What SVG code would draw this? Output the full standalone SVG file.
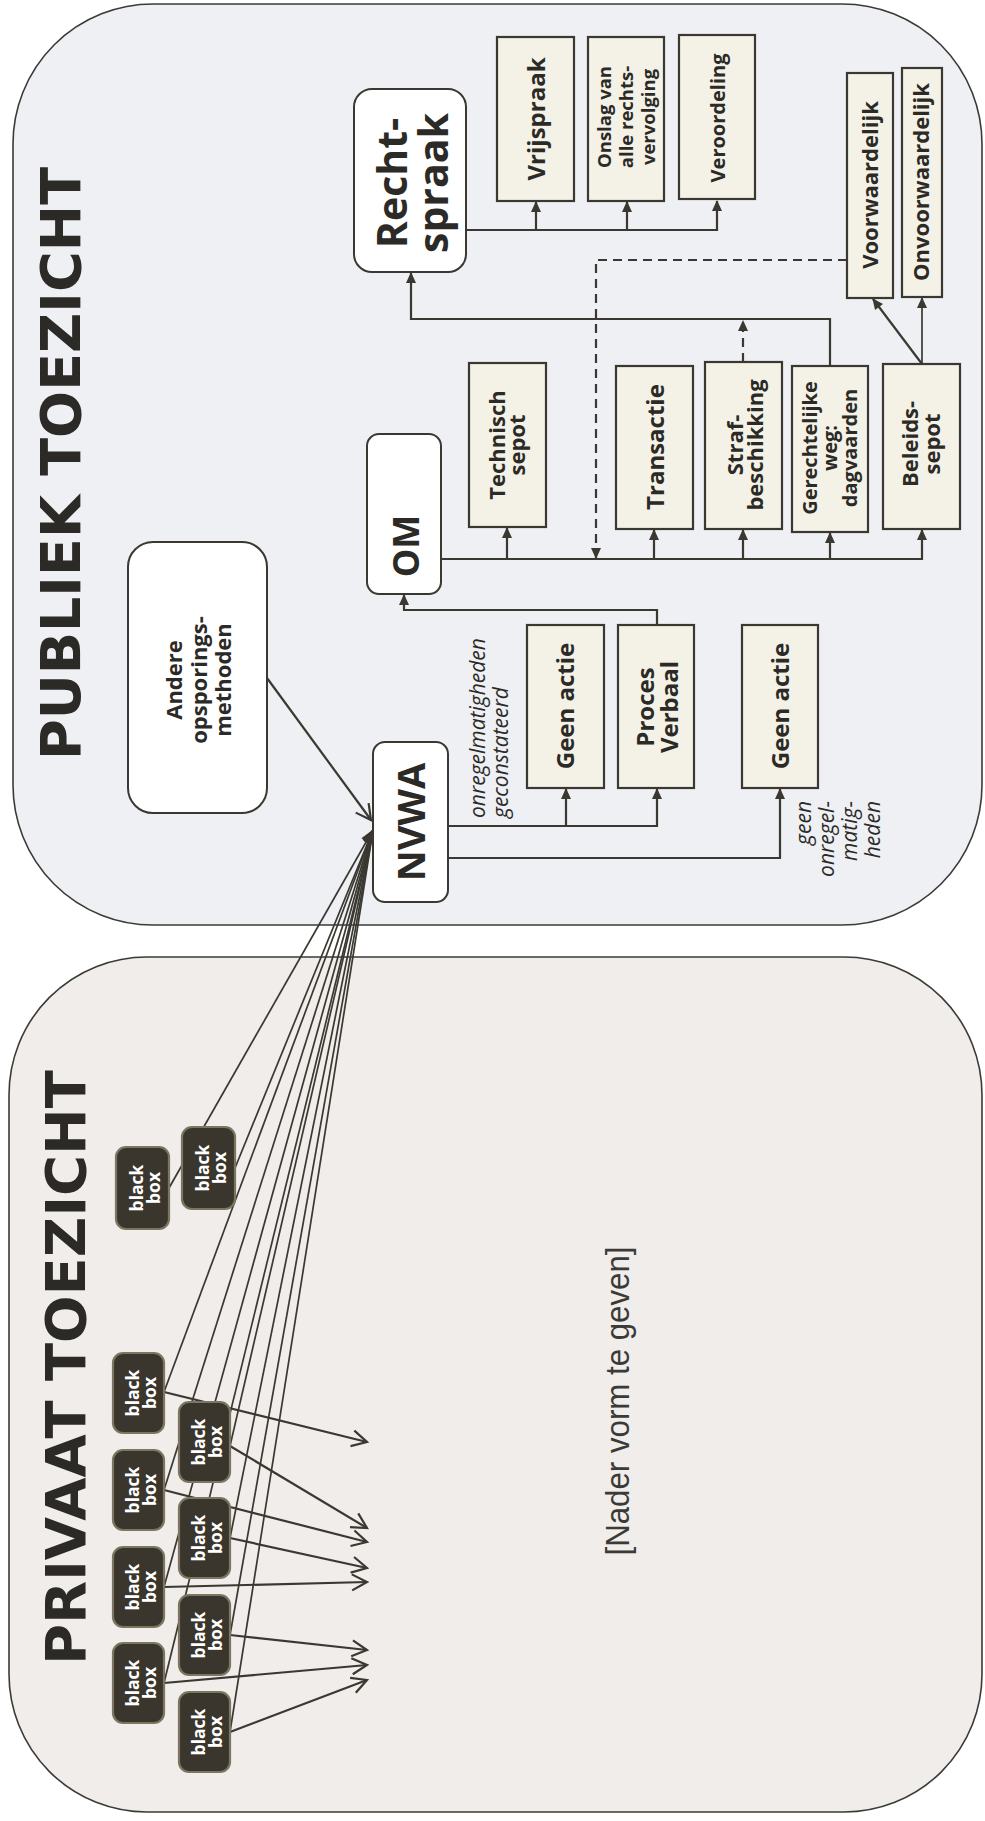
<svg xmlns="http://www.w3.org/2000/svg" width="985" height="1821" viewBox="0 0 985 1821">
<defs>
<style>
.panel{stroke:#3a3a36;stroke-width:1.6}
.cream{fill:#f4f2e6;stroke:#3a3830;stroke-width:2.2}
.white{fill:#ffffff;stroke:#3a3830;stroke-width:2}
.bbox{fill:#3a362d;stroke:#7a765f;stroke-width:2.2}
.con{fill:none;stroke:#3a3830;stroke-width:2.2}
.thin{fill:none;stroke:#3a3830;stroke-width:1.7}
.dash{stroke-dasharray:9 6}
.lbl{font-family:"Open Sans","DejaVu Sans",sans-serif;font-weight:700;fill:#2b2a26;text-anchor:middle}
.it{font-family:"Open Sans","DejaVu Sans",sans-serif;font-style:italic;font-weight:400;fill:#2b2a26;font-size:21px}
.bb{font-family:"Open Sans","DejaVu Sans",sans-serif;font-weight:700;fill:#ffffff;font-size:17.5px;text-anchor:middle}
.title{font-family:"DejaVu Sans",sans-serif;font-weight:700;font-size:55px;fill:#2b2a26;text-anchor:middle}
</style>
<marker id="ah" markerUnits="userSpaceOnUse" markerWidth="11" markerHeight="10" refX="10" refY="5" orient="auto" overflow="visible">
<path d="M0,0 L11,5 L0,10 z" fill="#3a3830"/>
</marker>
<marker id="ahb" markerUnits="userSpaceOnUse" markerWidth="14" markerHeight="12" refX="13" refY="6" orient="auto" overflow="visible">
<path d="M0,0 L14,6 L0,12 z" fill="#3a3830"/>
</marker>
<marker id="open" markerUnits="userSpaceOnUse" markerWidth="16" markerHeight="16" refX="15" refY="8" orient="auto" overflow="visible">
<path d="M0,0 L15,8 L0,16" fill="none" stroke="#3a3830" stroke-width="2.2"/>
</marker>
</defs>

<g id="panels">
<rect id="publiek-panel" class="panel" x="13" y="4" width="969" height="921" rx="140" ry="140" fill="#eef0f4"/>
<rect id="privaat-panel" class="panel" x="9" y="957" width="973" height="855" rx="138" ry="138" fill="#f0edeb"/>
<text class="title" transform="translate(80,463.5) rotate(-90)" textLength="593" lengthAdjust="spacingAndGlyphs">PUBLIEK TOEZICHT</text>
<text class="title" transform="translate(85,1367.5) rotate(-90)" textLength="595" lengthAdjust="spacingAndGlyphs">PRIVAAT TOEZICHT</text>
<text transform="translate(629,1401) rotate(-90)" font-family="Liberation Sans, Arial, sans-serif" font-size="34" fill="#3a3a36" text-anchor="middle" textLength="309" lengthAdjust="spacingAndGlyphs">[Nader vorm te geven]</text>
</g>

<g id="connectors">
<path class="con" d="M466 230 H717 V201" marker-end="url(#ah)"/>
<path class="con" d="M536 230 V202" marker-end="url(#ah)"/>
<path class="con" d="M627 230 V202" marker-end="url(#ah)"/>
<path class="con" d="M830 366 V319 H411 V273" marker-end="url(#ah)"/>
<path class="con dash" d="M743 362 V321" marker-end="url(#ah)"/>
<path class="con dash" d="M847 260 H596 V558" marker-end="url(#ah)"/>
<path class="con" d="M922 364 L873 299" marker-end="url(#ah)"/>
<path class="thin" d="M922 364 V298" marker-end="url(#ah)"/>
<path class="con" d="M441 559 H922 V530" marker-end="url(#ah)"/>
<path class="con" d="M507 559 V528" marker-end="url(#ah)"/>
<path class="con" d="M654 559 V530" marker-end="url(#ah)"/>
<path class="con" d="M743 559 V530" marker-end="url(#ah)"/>
<path class="con" d="M830 559 V533" marker-end="url(#ah)"/>
<path class="con" d="M657 625 V610 H404 V595" marker-end="url(#ah)"/>
<path class="con" d="M448 826 H657 V789" marker-end="url(#ah)"/>
<path class="con" d="M566 826 V789" marker-end="url(#ah)"/>
<path class="con" d="M448 858 H780 V789" marker-end="url(#ah)"/>
<path class="con" d="M267 678 L371 820" marker-end="url(#open)"/>
<path class="thin" d="M169 1188 L373 830" marker-end="url(#ahb)"/>
<path class="thin" d="M235 1168 L373 830" marker-end="url(#ahb)"/>
<path class="thin" d="M164 1392 L373 830" marker-end="url(#ahb)"/>
<path class="thin" d="M230 1446 L373 830" marker-end="url(#ahb)"/>
<path class="thin" d="M164 1490 L373 830" marker-end="url(#ahb)"/>
<path class="thin" d="M230 1538 L373 830" marker-end="url(#ahb)"/>
<path class="thin" d="M164 1587 L373 830" marker-end="url(#ahb)"/>
<path class="thin" d="M230 1635 L373 830" marker-end="url(#ahb)"/>
<path class="thin" d="M164 1683 L373 830" marker-end="url(#ahb)"/>
<path class="thin" d="M230 1732 L373 830" marker-end="url(#ahb)"/>
<path class="con" d="M164 1392 L367 1442" marker-end="url(#open)"/>
<path class="con" d="M230 1446 L367 1528" marker-end="url(#open)"/>
<path class="con" d="M164 1490 L367 1542" marker-end="url(#open)"/>
<path class="con" d="M230 1538 L367 1568" marker-end="url(#open)"/>
<path class="con" d="M164 1587 L367 1582" marker-end="url(#open)"/>
<path class="con" d="M230 1635 L367 1650" marker-end="url(#open)"/>
<path class="con" d="M164 1683 L367 1665" marker-end="url(#open)"/>
<path class="con" d="M230 1732 L367 1680" marker-end="url(#open)"/>
</g>

<g id="labels-free">
<text class="it" transform="translate(485,818) rotate(-90)"><tspan x="0" y="0">onregelmatigheden</tspan><tspan x="0" y="23">geconstateerd</tspan></text>
<text class="it" transform="translate(811,801) rotate(-90)" text-anchor="end"><tspan x="0" y="0">geen</tspan><tspan x="0" y="23">onregel-</tspan><tspan x="0" y="46">matig-</tspan><tspan x="0" y="69">heden</tspan></text>
</g>

<g id="node-rechtspraak">
<rect class="white" x="354" y="89" width="112" height="183" rx="18"/>
<text class="lbl" font-size="41" transform="translate(407,183) rotate(-90)"><tspan x="0" y="0">Recht-</tspan><tspan x="0" y="41">spraak</tspan></text>
</g>
<g id="node-vrijspraak">
<rect class="cream" x="497" y="37" width="77" height="164"/>
<text class="lbl" font-size="24" transform="translate(545,119) rotate(-90)">Vrijspraak</text>
</g>
<g id="node-onslag">
<rect class="cream" x="588" y="37" width="76" height="164"/>
<text class="lbl" font-size="18.5" transform="translate(611,117) rotate(-90)"><tspan x="0" y="0">Onslag van</tspan><tspan x="0" y="22">alle rechts-</tspan><tspan x="0" y="44">vervolging</tspan></text>
</g>
<g id="node-veroordeling">
<rect class="cream" x="679" y="35" width="76" height="164"/>
<text class="lbl" font-size="20" transform="translate(725,118) rotate(-90)">Veroordeling</text>
</g>
<g id="node-voorwaardelijk">
<rect class="cream" x="847" y="73" width="46" height="225"/>
<text class="lbl" font-size="22" transform="translate(878,185) rotate(-90)">Voorwaardelijk</text>
</g>
<g id="node-onvoorwaardelijk">
<rect class="cream" x="902" y="68" width="40" height="229"/>
<text class="lbl" font-size="22" transform="translate(929,182) rotate(-90)">Onvoorwaardelijk</text>
</g>
<g id="node-technisch-sepot">
<rect class="cream" x="469" y="363" width="77" height="164"/>
<text class="lbl" font-size="22" transform="translate(505,445) rotate(-90)"><tspan x="0" y="0">Technisch</tspan><tspan x="0" y="20">sepot</tspan></text>
</g>
<g id="node-transactie">
<rect class="cream" x="616" y="366" width="77" height="163"/>
<text class="lbl" font-size="24" transform="translate(664,447) rotate(-90)">Transactie</text>
</g>
<g id="node-strafbeschikking">
<rect class="cream" x="705" y="362" width="77" height="167"/>
<text class="lbl" font-size="22" transform="translate(743,445) rotate(-90)"><tspan x="0" y="0">Straf-</tspan><tspan x="0" y="20">beschikking</tspan></text>
</g>
<g id="node-gerechtelijke-weg">
<rect class="cream" x="792" y="366" width="76" height="166"/>
<text class="lbl" font-size="20" transform="translate(817,448) rotate(-90)"><tspan x="0" y="0">Gerechtelijke</tspan><tspan x="0" y="20">weg:</tspan><tspan x="0" y="40">dagvaarden</tspan></text>
</g>
<g id="node-beleidssepot">
<rect class="cream" x="883" y="364" width="77" height="165"/>
<text class="lbl" font-size="22" transform="translate(918,444) rotate(-90)"><tspan x="0" y="0">Beleids-</tspan><tspan x="0" y="22">sepot</tspan></text>
</g>
<g id="node-om">
<rect class="white" x="367" y="434" width="74" height="160" rx="12"/>
<text class="lbl" font-size="36" transform="translate(419,546) rotate(-90)">OM</text>
</g>
<g id="node-andere">
<rect class="white" x="128" y="542" width="139" height="271" rx="25"/>
<text class="lbl" font-size="22" transform="translate(182,680) rotate(-90)"><tspan x="0" y="0">Andere</tspan><tspan x="0" y="24.5">opsporings-</tspan><tspan x="0" y="49">methoden</tspan></text>
</g>
<g id="node-nvwa">
<rect class="white" x="373" y="742" width="75" height="160" rx="12"/>
<text class="lbl" font-size="38" transform="translate(425,822) rotate(-90)">NVWA</text>
</g>
<g id="node-geen-actie-1">
<rect class="cream" x="527" y="625" width="77" height="163"/>
<text class="lbl" font-size="24" transform="translate(574,706) rotate(-90)">Geen actie</text>
</g>
<g id="node-proces-verbaal">
<rect class="cream" x="618" y="625" width="76" height="163"/>
<text class="lbl" font-size="24" transform="translate(654,707) rotate(-90)"><tspan x="0" y="0">Proces</tspan><tspan x="0" y="24">Verbaal</tspan></text>
</g>
<g id="node-geen-actie-2">
<rect class="cream" x="742" y="625" width="76" height="163"/>
<text class="lbl" font-size="24" transform="translate(789,706) rotate(-90)">Geen actie</text>
</g>

<g id="node-bb-i"><rect class="bbox" x="116" y="1147" width="53" height="82" rx="10"/><text class="bb" transform="translate(142.5,1188) rotate(-90)"><tspan x="0" y="0">black</tspan><tspan x="0" y="17">box</tspan></text></g>
<g id="node-bb-j"><rect class="bbox" x="182" y="1127" width="53" height="82" rx="10"/><text class="bb" transform="translate(208.5,1168) rotate(-90)"><tspan x="0" y="0">black</tspan><tspan x="0" y="17">box</tspan></text></g>
<g id="node-bb-a"><rect class="bbox" x="113" y="1353" width="51" height="80" rx="10"/><text class="bb" transform="translate(138.5,1393) rotate(-90)"><tspan x="0" y="0">black</tspan><tspan x="0" y="17">box</tspan></text></g>
<g id="node-bb-b"><rect class="bbox" x="113" y="1450" width="51" height="80" rx="10"/><text class="bb" transform="translate(138.5,1490) rotate(-90)"><tspan x="0" y="0">black</tspan><tspan x="0" y="17">box</tspan></text></g>
<g id="node-bb-c"><rect class="bbox" x="113" y="1547" width="51" height="80" rx="10"/><text class="bb" transform="translate(138.5,1587) rotate(-90)"><tspan x="0" y="0">black</tspan><tspan x="0" y="17">box</tspan></text></g>
<g id="node-bb-d"><rect class="bbox" x="113" y="1643" width="51" height="80" rx="10"/><text class="bb" transform="translate(138.5,1683) rotate(-90)"><tspan x="0" y="0">black</tspan><tspan x="0" y="17">box</tspan></text></g>
<g id="node-bb-e"><rect class="bbox" x="179" y="1402" width="51" height="80" rx="10"/><text class="bb" transform="translate(204.5,1442) rotate(-90)"><tspan x="0" y="0">black</tspan><tspan x="0" y="17">box</tspan></text></g>
<g id="node-bb-f"><rect class="bbox" x="179" y="1498" width="51" height="80" rx="10"/><text class="bb" transform="translate(204.5,1538) rotate(-90)"><tspan x="0" y="0">black</tspan><tspan x="0" y="17">box</tspan></text></g>
<g id="node-bb-g"><rect class="bbox" x="179" y="1595" width="51" height="80" rx="10"/><text class="bb" transform="translate(204.5,1635) rotate(-90)"><tspan x="0" y="0">black</tspan><tspan x="0" y="17">box</tspan></text></g>
<g id="node-bb-h"><rect class="bbox" x="179" y="1692" width="51" height="80" rx="10"/><text class="bb" transform="translate(204.5,1732) rotate(-90)"><tspan x="0" y="0">black</tspan><tspan x="0" y="17">box</tspan></text></g>
</svg>
